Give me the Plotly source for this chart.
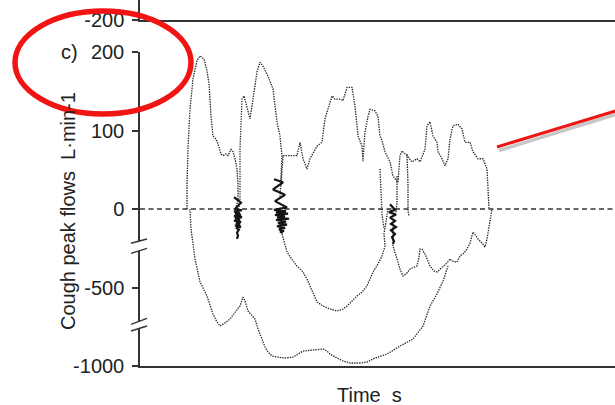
import numpy as np
import plotly.graph_objects as go

# ---- recorded cough flows: time (s) and flow (L/min) ----
t_exp1 = [0.48, 0.48, 0.49, 0.51, 0.54, 0.58, 0.61, 0.65, 0.68, 0.70, 0.71, 0.72, 0.74, 0.77, 0.79,
          0.82, 0.84, 0.87, 0.89, 0.92, 0.94, 0.96, 0.98, 0.99, 0.99, 0.97]
q_exp1 = [0, 32, 76, 127, 166, 189, 195, 191, 176, 159, 140, 118, 93, 89, 83,
          70, 68, 70, 68, 76, 73, 64, 51, 32, 13, 0]

t_exp2 = [0.99, 1.01, 1.01, 1.03, 1.05, 1.08, 1.11, 1.14, 1.18, 1.21, 1.24, 1.29, 1.34, 1.38, 1.41,
          1.43, 1.42, 1.41]
q_exp2 = [-20, 13, 76, 140, 144, 131, 115, 140, 175, 187, 182, 169, 153, 111, 93,
          68, 38, 13]

t_exp3 = [1.42, 1.44, 1.51, 1.58, 1.61, 1.64, 1.68, 1.71, 1.78, 1.83,
          1.86, 1.89, 1.93, 1.96, 2.01, 2.04, 2.08, 2.13, 2.16, 2.19,
          2.23, 2.24, 2.26, 2.29, 2.31, 2.36, 2.39, 2.41, 2.43, 2.46,
          2.51, 2.54, 2.59, 2.61, 2.63, 2.68, 2.73, 2.78, 2.81, 2.86,
          2.88, 2.91, 2.94, 2.98, 2.99, 3.03, 3.06, 3.09, 3.11, 3.14,
          3.19, 3.23, 3.26, 3.31, 3.34, 3.39, 3.44, 3.48, 3.49, 3.50]
q_exp3 = [30, 68, 68, 68, 85, 64, 51, 64, 80, 85,
          115, 127, 144, 140, 140, 138, 155, 155, 131, 93,
          80, 61, 98, 118, 127, 125, 118, 93, 87, 73,
          60, 42, 34, 68, 74, 68, 60, 64, 60, 76,
          106, 111, 93, 85, 73, 64, 55, 64, 89, 106,
          108, 102, 85, 85, 73, 64, 64, 51, 13, 0]

t_insp1 = [0.51, 0.52, 0.56, 0.61, 0.68, 0.74, 0.78, 0.81, 0.86, 0.91,
           0.97, 1.01, 1.04, 1.06, 1.09, 1.13, 1.16, 1.19, 1.23, 1.26,
           1.29, 1.33, 1.38, 1.46, 1.54, 1.59, 1.64, 1.74, 1.84, 1.88,
           1.91, 1.98, 2.04, 2.11, 2.21, 2.28, 2.36, 2.48, 2.61, 2.74,
           2.84, 2.91, 2.98, 3.04, 3.09]
q_insp1 = [0, -127, -318, -465, -554, -669, -720, -745, -726, -701,
           -650, -618, -561, -586, -650, -682, -701, -764, -828, -879,
           -911, -936, -943, -949, -943, -924, -905, -898, -892, -905,
           -924, -949, -968, -981, -981, -975, -949, -924, -873, -828,
           -745, -618, -541, -459, -363]

t_insp2 = [1.43, 1.48, 1.54, 1.58, 1.64, 1.68, 1.71, 1.78, 1.84, 1.91,
           1.98, 2.04, 2.08, 2.13, 2.18, 2.23, 2.28, 2.34, 2.39, 2.43,
           2.46, 2.45, 2.47, 2.49]
q_insp2 = [-159, -274, -331, -363, -401, -446, -490, -592, -618, -637,
           -650, -637, -618, -586, -554, -529, -490, -401, -350, -299,
           -236, -159, -76, 0]

t_insp3 = [2.54, 2.54, 2.58, 2.61, 2.64, 2.68, 2.71, 2.76, 2.78, 2.80,
           2.81, 2.83, 2.86, 2.91, 2.95, 2.98, 3.04, 3.08, 3.11, 3.13,
           3.18, 3.21, 3.25, 3.28, 3.31, 3.34, 3.37, 3.39, 3.43, 3.46,
           3.48, 3.49, 3.51, 3.53]
q_insp3 = [-83, -236, -318, -382, -427, -408, -382, -369, -363, -306,
           -255, -255, -287, -363, -395, -401, -369, -344, -318, -331,
           -338, -299, -280, -255, -217, -147, -172, -191, -217, -242,
           -191, -147, -64, 0]

# short crossings of zero flow
t_cross1 = [2.68, 2.69, 2.69, 2.70]
q_cross1 = [70, 30, -10, -45]
t_cross2 = [2.41, 2.42, 2.43, 2.45]
q_cross2 = [51, 13, -32, -127]
t_cross3 = [2.58, 2.58, 2.57]
q_cross3 = [42, 10, -20]

# glottal closure oscillations around zero flow
t_osc1 = [0.95, 1.02, 0.96, 1.03, 0.95, 1.01, 0.96, 1.02, 0.95, 1.03, 0.96, 1.01,
          0.95, 1.02, 0.97, 1.01, 0.96, 1.02, 0.97, 1.00, 0.98, 0.99, 0.98]
q_osc1 = [15, 8, 0, -8, -15, -22, -30, -38, -45, -52, -60, -68,
          -75, -82, -90, -98, -105, -112, -120, -130, -150, -170, -190]
t_osc2 = [1.35, 1.44, 1.34, 1.46, 1.36, 1.48, 1.35, 1.47, 1.37, 1.49, 1.36, 1.46,
          1.38, 1.50, 1.37, 1.47, 1.39, 1.48, 1.38, 1.46, 1.40, 1.45, 1.41, 1.44]
q_osc2 = [38, 34, 25, 18, 10, 2, -6, -14, -22, -30, -38, -46,
          -54, -62, -70, -80, -90, -100, -110, -120, -130, -140, -146, -150]
t_osc3 = [2.51, 2.56, 2.50, 2.57, 2.51, 2.56, 2.52, 2.57, 2.52, 2.56, 2.53, 2.55, 2.54]
q_osc3 = [6, -5, -20, -35, -55, -75, -95, -115, -135, -160, -180, -205, -222]

flow_ticks = [200, 100, 0, -500, -1000]
flow_tick_text = ["200", "100", "0", "-500", "-1000"]

# axis below zero is compressed (broken axis)
NEG_SCALE = 0.2


def to_axis(q):
    q = np.asarray(q, dtype=float)
    return np.where(q >= 0, q, q * NEG_SCALE)


FONT = "Liberation Sans"
FS = 20
INK = "#222222"
AXIS = "#333333"

# plot-area geometry in pixels, used for decorations placed in paper space
W, H = 615, 405
ML, MB = 140, 39
PW, PH = W - ML, H - MB


def px_x(px):
    return (px - ML) / PW


def px_y(py):
    return (PH - py) / PH


fig = go.Figure()

dotted = [(t_exp1, q_exp1), (t_exp2, q_exp2), (t_exp3, q_exp3),
          (t_insp1, q_insp1), (t_insp2, q_insp2), (t_insp3, q_insp3),
          (t_cross1, q_cross1), (t_cross2, q_cross2), (t_cross3, q_cross3)]
for t, q in dotted:
    fig.add_trace(go.Scatter(x=t, y=to_axis(q), mode="lines",
                             line=dict(color="#262626", width=1.3, dash="1.4px,1.1px"),
                             hoverinfo="skip", showlegend=False))

for t, q in [(t_osc1, q_osc1), (t_osc2, q_osc2), (t_osc3, q_osc3)]:
    fig.add_trace(go.Scatter(x=t, y=to_axis(q), mode="lines",
                             line=dict(color="#151515", width=2.2),
                             hoverinfo="skip", showlegend=False))

# bottom edge of the panel above
fig.add_trace(go.Scatter(x=[None], y=[None], xaxis="x2", yaxis="y2",
                         showlegend=False, hoverinfo="skip"))

top_main = 52  # px where the main axis starts
fig.update_layout(
    width=W, height=H,
    margin=dict(l=ML, r=0, t=0, b=MB, autoexpand=False),
    paper_bgcolor="white", plot_bgcolor="white",
    font=dict(family=FONT, size=FS, color=INK),
    xaxis=dict(domain=[0, 1], range=[0.01, 4.76], showline=True, linecolor=AXIS,
               linewidth=1.5, showticklabels=False, ticks="", showgrid=False,
               zeroline=False, automargin=False),
    yaxis=dict(domain=[0, px_y(top_main)], range=[-200, 200],
               tickvals=to_axis(flow_ticks).tolist(), ticktext=flow_tick_text,
               ticks="outside", ticklen=6, tickwidth=1.5, tickcolor=AXIS,
               showline=True, linecolor=AXIS, linewidth=1.5, showgrid=False,
               zeroline=False, ticklabelstandoff=4, automargin=False),
    xaxis2=dict(domain=[0, 1], anchor="y2", range=[0, 1], showline=True,
                linecolor=AXIS, linewidth=1.5, showticklabels=False, ticks="",
                showgrid=False, zeroline=False, automargin=False),
    yaxis2=dict(domain=[px_y(20), 1], anchor="x2", range=[-200, -150],
                tickvals=[-200], ticktext=["-200"], ticks="outside", ticklen=6,
                tickwidth=1.5, tickcolor=AXIS, showline=True, linecolor=AXIS,
                linewidth=1.5, showgrid=False, zeroline=False,
                ticklabelstandoff=4, automargin=False),
)

shapes = []
# zero-flow reference line
shapes.append(dict(type="line", xref="paper", yref="y", x0=0, x1=1, y0=0, y1=0,
                   line=dict(color="#333333", width=1.6, dash="5px,3.5px"), layer="below"))

# axis breaks: gaps in the axis line with double slashes
for gap_top, gap_bot, s1, s2 in [(241, 251, (243.3, 239), (253.3, 248.3)),
                                 (321.5, 328, (324.3, 318.3), (331, 326))]:
    shapes.append(dict(type="rect", xref="paper", yref="paper",
                       x0=px_x(136), x1=px_x(144), y0=px_y(gap_bot), y1=px_y(gap_top),
                       fillcolor="white", line=dict(width=0), layer="above"))
    for ya, yb in (s1, s2):
        shapes.append(dict(type="line", xref="paper", yref="paper",
                           x0=px_x(131), y0=px_y(ya), x1=px_x(147), y1=px_y(yb),
                           line=dict(color=AXIS, width=1.4), layer="above"))

# red highlight ring around the panel label
shapes.append(dict(type="circle", xref="paper", yref="paper",
                   x0=px_x(15), x1=px_x(191), y0=px_y(114), y1=px_y(11),
                   line=dict(color="#f01414", width=5.5), layer="above"))

# red pointer with soft shadow
shapes.append(dict(type="line", xref="paper", yref="paper",
                   x0=px_x(499), y0=px_y(150.5), x1=px_x(617), y1=px_y(114),
                   line=dict(color="rgba(0,0,0,0.22)", width=3.5), layer="above"))
shapes.append(dict(type="line", xref="paper", yref="paper",
                   x0=px_x(497), y0=px_y(147), x1=px_x(617), y1=px_y(110.5),
                   line=dict(color="#f01414", width=3), layer="above"))

fig.update_layout(shapes=shapes)

fig.add_annotation(text="c)", xref="paper", yref="paper", x=px_x(69), y=px_y(52),
                   xanchor="center", yanchor="middle", showarrow=False,
                   font=dict(family=FONT, size=FS, color=INK))
fig.add_annotation(text="Cough peak flows\u00a0 L\u00b7min-1", xref="paper", yref="paper",
                   x=px_x(68), y=px_y(211), textangle=-90,
                   xanchor="center", yanchor="middle", showarrow=False,
                   font=dict(family=FONT, size=FS, color=INK))
fig.add_annotation(text="Time\u00a0 s", xref="paper", yref="paper",
                   x=px_x(369), y=px_y(395), xanchor="center", yanchor="middle",
                   showarrow=False, font=dict(family=FONT, size=FS, color=INK))

fig.write_html("out.html")
